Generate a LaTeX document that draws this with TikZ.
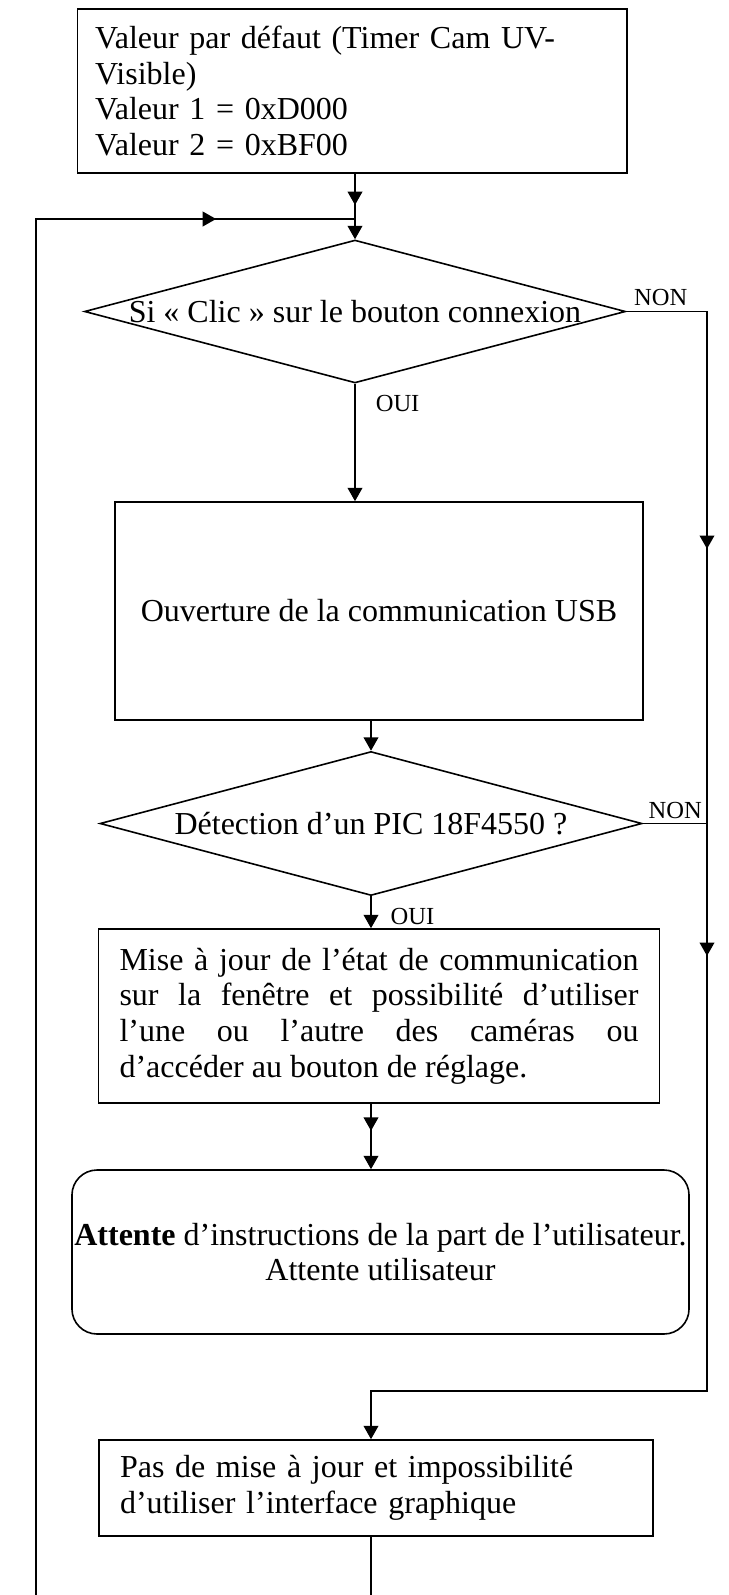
\documentclass[tikz,border=0pt]{standalone}
\usepackage{fontspec}
\setmainfont{Liberation Serif}
\usetikzlibrary{shapes.geometric,arrows.meta,decorations.markings}

\begin{document}
\begin{tikzpicture}[x=0.375pt, y=-0.375pt, line width=0.6pt,
    > = {Triangle[length=5pt,width=5.5pt]},
    texte/.style={font=\fontsize{12}{13.4}\selectfont},
    boite/.style={draw, texte, inner sep=0pt},
    losange/.style={draw, diamond, inner sep=0pt},
    etiq/.style={font=\fontsize{9.2}{10}\selectfont, inner sep=0pt, anchor=base west, at start},
    milieu/.style={postaction={decorate}, decoration={markings, mark=at position #1 with {\arrow{>}}}},
    milieux/.style 2 args={postaction={decorate}, decoration={markings, mark=at position #1 with {\arrow{>}}, mark=at position #2 with {\arrow{>}}}}]
            \useasboundingbox (0,0) rectangle (728,1595);
            % blocs
            \node[boite, minimum width=206pt, minimum height=61.5pt, text width=192.8pt, align=left] (init) at (352.3,91) {Valeur par défaut (Timer Cam UV-\\Visible)\\Valeur 1 = 0xD000\\Valeur 2 = 0xBF00};
            \node[losange, minimum width=202.9pt, minimum height=53.6pt, label={[texte]center:Si « Clic » sur le bouton connexion}] (clic) at (355,311.5) {};
            \node[boite, minimum width=198pt, minimum height=81.75pt] (usb) at (379,611) {Ouverture de la communication USB};
            \node[losange, minimum width=203.25pt, minimum height=54pt, label={[texte]center:Détection d’un PIC 18F4550 ?}] (pic) at (371,823.5) {};
            \node[boite, minimum width=210.4pt, minimum height=65.25pt, text width=194.6pt, align=justify] (maj) at (379,1016) {Mise à jour de l’état de communication\linebreak sur la fenêtre et possibilité d’utiliser\linebreak l’une ou l’autre des caméras ou\linebreak d’accéder au bouton de réglage.};
            \node[boite, rounded corners=9.4pt, minimum width=231.4pt, minimum height=61.5pt, align=center] (attente) at (380.5,1252) {\textbf{Attente} d’instructions de la part de l’utilisateur.\\Attente utilisateur};
            \node[boite, minimum width=207.75pt, minimum height=36pt, text width=192pt, align=left] (pas) at (376,1488) {Pas de mise à jour et impossibilité\\d’utiliser l’interface graphique};
            % points de passage
            \coordinate (jonction) at (355,219);
            \coordinate (boucleH) at (36,219);
            \coordinate (boucleB) at (36,1595);
            \coordinate (droiteH) at (707,311.5);
            \coordinate (droiteB) at (707,1391);
            \coordinate (fin) at (371,1595);
            % liaisons
            \draw[milieu=-5.25pt] (init.south -| jonction) -- (jonction);
            \draw[->] (jonction) -- (clic.north);
            \draw[->] (clic.south) -- node[etiq, xshift=7.5pt, yshift=-10.5pt] {OUI} (clic.south |- usb.north);
            \draw[->, milieux={119.25pt}{271.9pt}] (clic.east) -- node[etiq, xshift=2.6pt, yshift=2.2pt] {NON} (droiteH) -- (droiteB) -- (droiteB -| pic.south) -- (pic.south |- pas.north);
            \draw[->] (pic.north |- usb.south) -- (pic.north);
            \draw (pic.east) -- node[etiq, xshift=1.9pt, yshift=1.9pt] {NON} (pic.east -| droiteH);
            \draw[->] (pic.south) -- node[etiq, xshift=7.1pt, yshift=-10.5pt] {OUI} (pic.south |- maj.north);
            \draw[->, milieu=10.1pt] (pic.south |- maj.south) -- (pic.south |- attente.north);
            \draw (pas.south -| fin) -- (fin);
            \draw[milieu=-52.1pt] (boucleB) -- (boucleH) -- (jonction);
        \end{tikzpicture}
\end{document}
